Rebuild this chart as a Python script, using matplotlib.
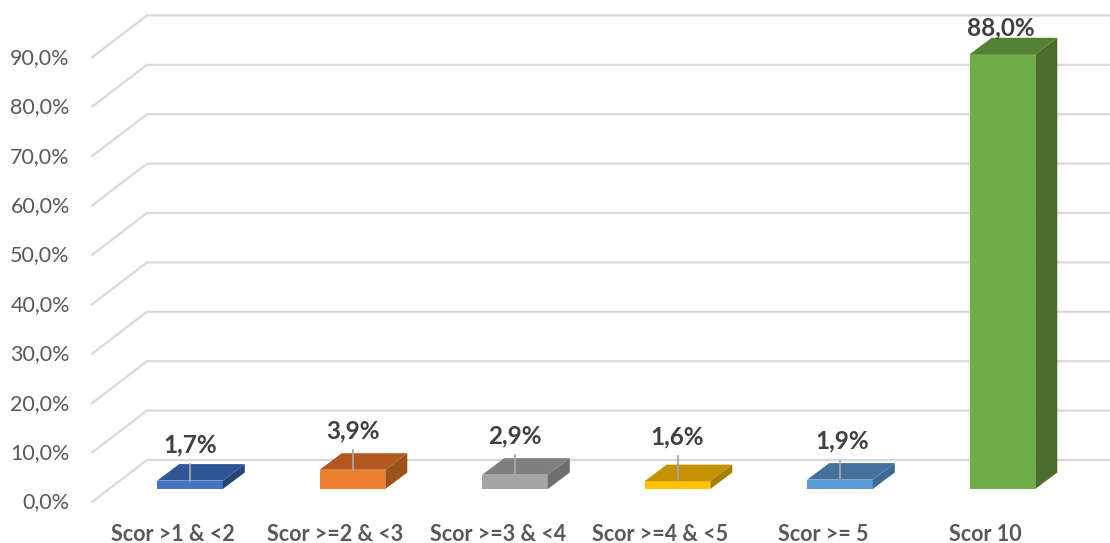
import matplotlib
matplotlib.use("Agg")
import matplotlib.pyplot as plt
from matplotlib.patches import Polygon
from matplotlib.transforms import ScaledTranslation

categories = ["Scor >1 & <2", "Scor >=2 & <3", "Scor >=3 & <4", "Scor >=4 & <5", "Scor >= 5", "Scor 10"]
values = [1.7, 3.9, 2.9, 1.6, 1.9, 88.0]
value_labels = ["1,7%", "3,9%", "2,9%", "1,6%", "1,9%", "88,0%"]
y_ticks = [0, 10, 20, 30, 40, 50, 60, 70, 80, 90]
y_labels = ["0,0%", "10,0%", "20,0%", "30,0%", "40,0%", "50,0%", "60,0%", "70,0%", "80,0%", "90,0%"]
front_colors = ["#4472C4", "#ED7D31", "#A5A5A5", "#FFC000", "#5B9BD5", "#70AD47"]
top_colors = ["#2F5597", "#B3591F", "#7F7F7F", "#C49300", "#44729D", "#548235"]
side_colors = ["#264478", "#9C5319", "#6E6E6E", "#A67F00", "#3B6A94", "#4A6F2C"]

W, H = 1110, 543
plt.rcParams["font.family"] = ["Lato", "DejaVu Sans"]
fig = plt.figure(figsize=(W / 100, H / 100), dpi=100)

L, R, B, T = 92, 1110, 502, 15
ax = fig.add_axes([L / W, 1 - B / H, (R - L) / W, (B - T) / H])
PX_Y = 4.94
PX_X = 162.5
ax.set_ylim(0, (B - T) / PX_Y)
x0 = (190 - L) / PX_X
ax.set_xlim(-x0, (R - L) / PX_X - x0)
for s in ax.spines.values():
    s.set_visible(False)
ax.set_facecolor("none")

dx = lambda px: px / PX_X
dy = lambda px: px / PX_Y

# wall/floor gridlines
xl = ax.get_xlim()[0]
xr = ax.get_xlim()[1]
for v in y_ticks:
    ax.plot([xl, xl + dx(55), xr], [v, v + dy(42), v + dy(42)], color="#D9D9D9", lw=1.6,
            clip_on=False, zorder=1, solid_joinstyle="miter")

# bars
half = dx(32.8)
base = dy(B - 489)
ox, oy = dx(22), dy(16.5)
leader_top = [464, 450, 455, 456, 461]
label_px = [(190, 445), (353, 431), (515, 436), (677, 437), (842, 441), (1001, 28)]
for i, v in enumerate(values):
    a, b, lo, hi = i - half, i + half, base, base + v
    ax.add_patch(Polygon([(a, lo), (b, lo), (b, hi), (a, hi)], fc=front_colors[i], ec="none", zorder=3))
    ax.add_patch(Polygon([(a, hi), (b, hi), (b + ox, hi + oy), (a + ox, hi + oy)], fc=top_colors[i], ec="none", zorder=3))
    ax.add_patch(Polygon([(b, lo), (b + ox, lo + oy), (b + ox, hi + oy), (b, hi)], fc=side_colors[i], ec="none", zorder=3))
    if i < len(leader_top):
        ax.plot([i, i], [hi, (B - leader_top[i]) / PX_Y], color="#A6A6A6", lw=1.3, zorder=4)
    lx, ly = label_px[i]
    ax.text((lx - L) / PX_X - x0, (B - ly) / PX_Y, value_labels[i], ha="center", va="center",
            fontsize=17.5, fontweight="bold", color="#404040", zorder=5)

ax.set_yticks(y_ticks, y_labels)
ax.set_xticks([i - dx(17) for i in range(len(categories))], categories)
ax.tick_params(axis="both", length=0)
ax.tick_params(axis="y", pad=16, labelsize=15.5, labelcolor="#595959")
ax.tick_params(axis="x", pad=16, labelsize=15.5, labelcolor="#595959")
for t in ax.get_xticklabels():
    t.set_fontweight("bold")
up = ScaledTranslation(0, 1.5 / 100, fig.dpi_scale_trans)
for t in ax.get_yticklabels():
    t.set_transform(t.get_transform() + up)

fig.savefig("out.png", dpi=100, facecolor="white")
